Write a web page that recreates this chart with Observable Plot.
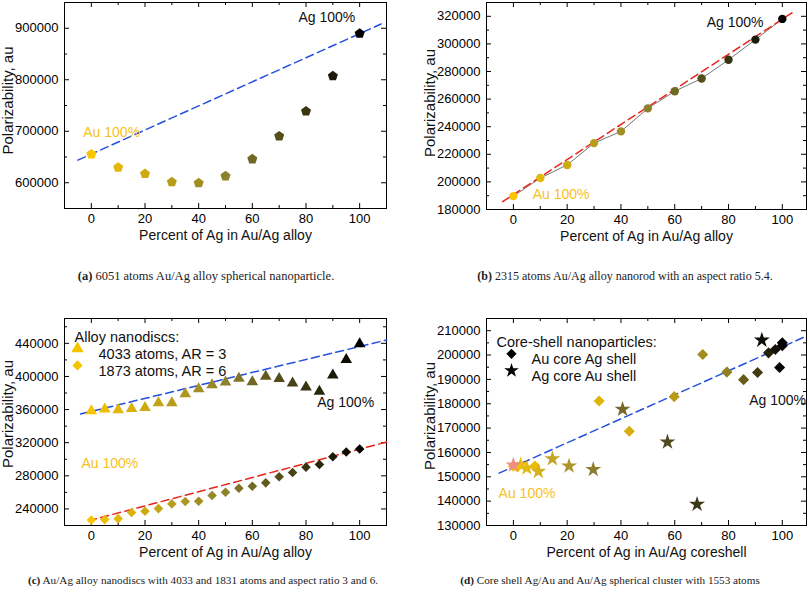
<!DOCTYPE html>
<html><head><meta charset="utf-8">
<script src="https://cdn.jsdelivr.net/npm/d3@7"></script>
<script src="https://cdn.jsdelivr.net/npm/@observablehq/plot@0.6"></script>
<style>
body{margin:0;background:#fff;}
#root{position:relative;width:810px;height:593px;overflow:hidden;font-family:"Liberation Sans",Arial,sans-serif;background:#fff;}
.panel{position:absolute;}
.cap{position:absolute;font-family:"Liberation Serif","Times New Roman",serif;font-size:12px;color:#222;white-space:nowrap;transform:translateX(-50%);line-height:16px;}
</style></head><body><div id="root"></div>
<script>
// ---------- DATA ----------
// (a) 6051 atoms spherical alloy
const pctA = [0, 10, 20, 30, 40, 50, 60, 70, 80, 90, 100];
const polA = [655500, 629700, 617400, 601300, 599400, 612900, 645800, 690300, 738700, 807100, 889700];
const fitAx = [-5, 108];
const fitAy = [643900, 908300];
// (b) 2315 atoms nanorod
const pctB = [0, 10, 20, 30, 40, 50, 60, 70, 80, 90, 100];
const polB = [189700, 202800, 212300, 228100, 236600, 253300, 265700, 274900, 288500, 303100, 318100];
const fitBx = [-4, 104];
const fitBy = [185700, 323000];
// (c) nanodiscs
const pctC = [0, 5, 10, 15, 20, 25, 30, 35, 40, 45, 50, 55, 60, 65, 70, 75, 80, 85, 90, 95, 100];
const polC4033 = [358400, 360400, 359600, 361200, 362400, 368100, 368100, 379000, 385000, 389900, 393100, 397600, 393500, 400000, 397200, 391900, 387100, 381800, 401600, 420200, 439200];
const polC1873 = [226700, 227100, 228300, 235600, 237200, 240400, 246100, 248900, 249300, 256200, 260200, 265000, 267500, 271500, 278800, 284000, 290500, 293700, 303000, 308700, 312300];
const fitC1x = [-4, 110];
const fitC1y = [354700, 444000];
const fitC2x = [-1, 110];
const fitC2y = [225700, 320800];
// (d) core-shell
const pctDcore = [0, 1.5, 8, 31.9, 43.1, 59.8, 70.4, 79.4, 85.6, 90.8, 94.9, 97.4, 99, 100, 100];
const polDcore = [154300, 154000, 154400, 181100, 168700, 182900, 200200, 193000, 189900, 192800, 200900, 202300, 194900, 203800, 205000];
const pctDstar = [2.7, 5, 9.3, 14.5, 20.7, 29.7, 40.6, 57.3, 68.3, 92.4];
const polDstar = [154900, 153600, 152200, 157400, 154400, 153000, 177700, 164300, 138700, 206100];
const pctDstar0 = [0];
const polDstar0 = [154800];
const fitDx = [-5.3, 109];
const fitDy = [151500, 207800];

// tick values
const ticksX = [0, 20, 40, 60, 80, 100];
const minorX = [10, 30, 50, 70, 90];
const ticksYA = [600000, 700000, 800000, 900000];
const minorYA = [650000, 750000, 850000];
const ticksYB = [180000, 200000, 220000, 240000, 260000, 280000, 300000, 320000];
const minorYB = [190000, 210000, 230000, 250000, 270000, 290000, 310000];
const ticksYC = [240000, 280000, 320000, 360000, 400000, 440000];
const minorYC = [260000, 300000, 340000, 380000, 420000, 460000];
const ticksYD = [130000, 140000, 150000, 160000, 170000, 180000, 190000, 200000, 210000];
const minorYD = [135000, 145000, 155000, 165000, 175000, 185000, 195000, 205000];

// annotations (data space)
const annTextA = ["Au 100%", "Ag 100%"], annXA = [-3, 77.2], annYA = [697000, 921300];
const annTextB = ["Au 100%", "Ag 100%"], annXB = [7.2, 71.9], annYB = [191100, 315600];
const annTextC = ["Au 100%", "Ag 100%"], annXC = [-3.7, 84.2], annYC = [295300, 368000];
const annTextD = ["Au 100%", "Ag 100%"], annXD = [-5.5, 87.7], annYD = [143200, 181500];

const legendTitleC = "Alloy nanodiscs:";
const legendC = ["4033 atoms, AR = 3", "1873 atoms, AR = 6"];
const legendTitleD = "Core-shell nanoparticles:";
const legendD = ["Au core Ag shell", "Ag core Au shell"];

// ---------- STYLE ----------
const GOLD = "#f5c400", ANN_GOLD = "#f7c21a";
const col = d3.scaleLinear().domain([0, 50, 100]).range(["#f8c500", "#8c822c", "#000000"]);
const colStar = d3.scaleLinear().domain([0, 10, 30, 60, 100]).range(["#f6c400", "#d4b020", "#8c7d30", "#4a4520", "#000000"]);
const colCore = d3.scaleLinear().domain([0, 45, 80, 100]).range(["#f0c000", "#d6ad10", "#8f7f20", "#000000"]);

const pentagon = {draw(ctx, size) {
  const r = Math.sqrt(size / Math.PI) * 1.15;
  for (let i = 0; i < 5; i++) {
    const a = -Math.PI / 2 + i * 2 * Math.PI / 5;
    const x = r * Math.cos(a), y = r * Math.sin(a);
    if (i) ctx.lineTo(x, y); else ctx.moveTo(x, y);
  }
  ctx.closePath();
}};

function axes(yt, ym, xLabel, yDy, fw, fh) {
  const f = d3.format("d");
  const tx = (t, len, side) => Plot.tickX(t, {x: d => d, stroke: "#000", strokeWidth: 1,
    [side === "bottom" ? "insetTop" : "insetBottom"]: fh - len});
  const ty = (t, len, side) => Plot.tickY(t, {y: d => d, stroke: "#000", strokeWidth: 1,
    [side === "left" ? "insetRight" : "insetLeft"]: fw - len});
  return [
    tx(ticksX, 5, "bottom"), tx(minorX, 3, "bottom"), tx(ticksX, 5, "top"), tx(minorX, 3, "top"),
    ty(yt, 5, "left"), ty(ym, 3, "left"), ty(yt, 5, "right"), ty(ym, 3, "right"),
    Plot.axisX(ticksX, {anchor: "bottom", tickSize: 0, tickPadding: 5, fontSize: 13, label: null}),
    Plot.axisY(yt, {anchor: "left", tickSize: 0, tickPadding: 6, fontSize: 13, tickFormat: f, label: null}),
    Plot.frame({stroke: "#000", strokeWidth: 1}),
    Plot.text([xLabel], {frameAnchor: "bottom", dy: 31, fontSize: 14, fill: "#111"}),
    Plot.text(["Polarizability, au"], {frameAnchor: "left", dx: -56, dy: yDy, rotate: -90, textAnchor: "middle", fontSize: 15, fill: "#111"})
  ];
}

function annot(t, xs, ys) {
  return Plot.text(t, {x: (d, i) => xs[i], y: (d, i) => ys[i], text: d => d, textAnchor: "start", fontSize: 14,
    fill: (d, i) => i === 0 ? ANN_GOLD : "#111"});
}

function legend(title, items, symbols, fill, x0, y0, sx, tx, step) {
  const marks = [Plot.text([title], {frameAnchor: "top-left", dx: x0, dy: y0, textAnchor: "start", fontSize: 14.5, fill: "#111"})];
  items.forEach((it, i) => {
    marks.push(Plot.dot([it], {frameAnchor: "top-left", dx: sx, dy: y0 + step * (i + 1), symbol: symbols[i], fill, r: 4.6}));
    marks.push(Plot.text([it], {frameAnchor: "top-left", dx: tx, dy: y0 + step * (i + 1), textAnchor: "start", fontSize: 14.5, fill: "#111"}));
  });
  return marks;
}

const common = {style: {fontFamily: "Liberation Sans, Arial, sans-serif", fontSize: "13px", color: "#000", background: "transparent", overflow: "visible"}};

const root = document.getElementById("root");
function place(el, left, top) {
  el.classList.add("panel"); el.style.left = left + "px"; el.style.top = top + "px"; root.appendChild(el);
}

// (a)
const pa = Plot.plot({
  ...common, width: 405, height: 250, marginLeft: 64, marginRight: 19, marginTop: 2, marginBottom: 42,
  x: {domain: [-10, 110]}, y: {domain: [550000, 950000]},
  marks: [
    ...axes(ticksYA, minorYA, "Percent of Ag in Au/Ag alloy", -5, 322, 206),
    Plot.line(fitAx, {x: d => d, y: (d, i) => fitAy[i], stroke: "#2450dc", strokeWidth: 1.5, strokeDasharray: "8,4.5"}),
    Plot.dot(pctA, {x: d => d, y: (d, i) => polA[i], fill: d => col(d), symbol: pentagon, r: 4.6}),
    annot(annTextA, annXA, annYA)
  ]
});
place(pa, 0, 0);

// (b)
const pb = Plot.plot({
  ...common, width: 405, height: 250, marginLeft: 81, marginRight: 4, marginTop: 2, marginBottom: 41,
  x: {domain: [-10, 109]}, y: {domain: [180000, 330000]},
  marks: [
    ...axes(ticksYB, minorYB, "Percent of Ag in Au/Ag alloy", -3, 320, 207),
    Plot.line(pctB, {x: d => d, y: (d, i) => polB[i], stroke: "#666", strokeWidth: 0.9}),
    Plot.line(fitBx, {x: d => d, y: (d, i) => fitBy[i], stroke: "#e8261c", strokeWidth: 1.5, strokeDasharray: "8,4.5"}),
    Plot.dot(pctB, {x: d => d, y: (d, i) => polB[i], fill: d => col(d), r: 4.2}),
    annot(annTextB, annXB, annYB)
  ]
});
place(pb, 405, 0);

// (c)
const pc = Plot.plot({
  ...common, width: 405, height: 275, marginLeft: 64, marginRight: 19, marginTop: 18, marginBottom: 50,
  x: {domain: [-10, 110]}, y: {domain: [220000, 470000]},
  marks: [
    ...axes(ticksYC, minorYC, "Percent of Ag in Au/Ag alloy", -8, 322, 207),
    Plot.line(fitC1x, {x: d => d, y: (d, i) => fitC1y[i], stroke: "#2450dc", strokeWidth: 1.5, strokeDasharray: "8,4.5"}),
    Plot.line(fitC2x, {x: d => d, y: (d, i) => fitC2y[i], stroke: "#e8261c", strokeWidth: 1.5, strokeDasharray: "8,4.5"}),
    Plot.dot(pctC, {x: d => d, y: (d, i) => polC4033[i], fill: d => col(d), symbol: "triangle", r: 4.3}),
    Plot.dot(pctC, {x: d => d, y: (d, i) => polC1873[i], fill: d => col(d), symbol: "diamond2", r: 4.3}),
    annot(annTextC, annXC, annYC),
    ...legend(legendTitleC, legendC, ["triangle", "diamond2"], GOLD, 10, 13.5, 13, 34, 16.7)
  ]
});
place(pc, 0, 300);

// (d)
const pd = Plot.plot({
  ...common, width: 405, height: 275, marginLeft: 81, marginRight: 4, marginTop: 18, marginBottom: 50,
  x: {domain: [-10, 109]}, y: {domain: [130000, 215000]},
  marks: [
    ...axes(ticksYD, minorYD, "Percent of Ag in Au/Ag coreshell", -6, 320, 207),
    Plot.line(fitDx, {x: d => d, y: (d, i) => fitDy[i], stroke: "#2450dc", strokeWidth: 1.5, strokeDasharray: "8,4.5"}),
    Plot.dot(pctDcore, {x: d => d, y: (d, i) => polDcore[i], fill: d => colCore(d), symbol: "diamond2", r: 5}),
    Plot.dot(pctDstar, {x: d => d, y: (d, i) => polDstar[i], fill: d => colStar(d), symbol: "star", r: 5}),
    Plot.dot(pctDstar0, {x: d => d, y: (d, i) => polDstar0[i], fill: "#ef8e82", symbol: "star", r: 5}),
    annot(annTextD, annXD, annYD),
    ...legend(legendTitleD, legendD, ["diamond2", "star"], "#000", 10, 18.5, 25, 45, 16.8)
  ]
});
place(pd, 405, 300);

// captions
const caps = [
  ["(a)", "6051 atoms Au/Ag alloy spherical nanoparticle.", 206, 268, 12.5],
  ["(b)", "2315 atoms Au/Ag alloy nanorod with an aspect ratio 5.4.", 625, 268, 12],
  ["(c)", "Au/Ag alloy nanodiscs with 4033 and 1831 atoms and aspect ratio 3 and 6.", 203, 572, 11.2],
  ["(d)", "Core shell Ag/Au and Au/Ag spherical cluster with 1553 atoms", 610, 572, 11.2]
];
for (const [lab, txt, cx, ty, fs] of caps) {
  const d = document.createElement("div");
  d.className = "cap";
  d.style.left = cx + "px"; d.style.top = ty + "px"; d.style.fontSize = fs + "px";
  const b = document.createElement("b"); b.textContent = lab;
  d.appendChild(b); d.appendChild(document.createTextNode(" " + txt));
  root.appendChild(d);
}
</script></body></html>
